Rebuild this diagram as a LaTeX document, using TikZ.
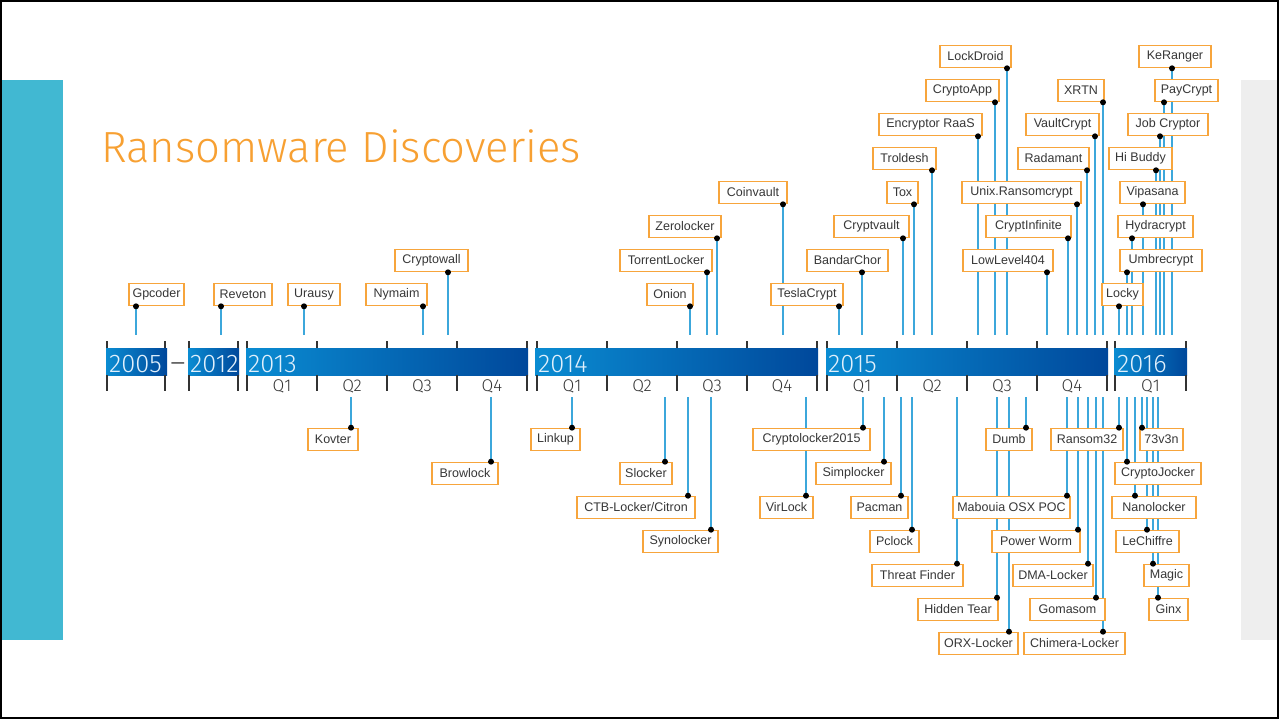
\documentclass[tikz,border=0pt]{standalone}
\usepackage{fontspec}
\setmainfont{Liberation Sans}
\newfontfamily\lightfont{Fira Sans Light}
\usetikzlibrary{arrows.meta}

\definecolor{sidecyan}{RGB}{65,184,210}
\definecolor{sidegrey}{RGB}{238,238,238}
\definecolor{titleorange}{RGB}{247,160,50}
\definecolor{boxorange}{RGB}{247,165,60}
\definecolor{stemblue}{RGB}{60,167,219}
\definecolor{barlight}{RGB}{10,140,210}
\definecolor{bardark}{RGB}{0,72,155}
\definecolor{yeartext}{RGB}{225,240,252}
\definecolor{labeltext}{RGB}{55,55,55}

\pgfdeclarelayer{background}
\pgfdeclarelayer{foreground}
\pgfsetlayers{background,main,foreground}

\tikzset{
  evbox/.style={draw=boxorange, line width=1.6pt, fill=white, text=labeltext,
    font=\fontsize{12.5}{14}\selectfont, inner xsep=2pt, inner ysep=0pt, minimum height=22pt},
  stem/.style={stemblue, line width=1.7pt},
  dot/.style={fill=black},
  bar/.style={left color=barlight, right color=bardark},
  tick/.style={draw=black!80, line width=1.4pt},
  yearlabel/.style={anchor=base west, text=yeartext, inner sep=0pt,
    font=\lightfont\fontsize{25.5}{25}\selectfont},
  qlabel/.style={anchor=base, text=black!80, inner sep=0pt,
    font=\lightfont\fontsize{17}{17}\selectfont},
}

\begin{document}
\begin{tikzpicture}[x=1pt, y=-1pt]

% Row heights above and below the bar
\def\rowua{294.5}
\def\rowub{260.5}
\def\rowuc{226.5}
\def\rowud{192.5}
\def\rowue{158.5}
\def\rowuf{124.5}
\def\rowug{90.5}
\def\rowuh{56.5}
\def\rowda{439.5}
\def\rowdb{473.5}
\def\rowdc{507.5}
\def\rowdd{541.5}
\def\rowde{575.5}
\def\rowdf{609.5}
\def\rowdg{643.5}
\def\uptop{335}
\def\dntop{397}

\useasboundingbox (0,0) rectangle (1279,719);

% Page frame and side panels
\fill[sidecyan] (0,80) rectangle (63,640);
\fill[sidegrey] (1241,80) rectangle (1279,640);
\draw[line width=2pt] (1,1) rectangle (1278,718);

% Title
\node[anchor=base west, inner sep=0pt, text=titleorange, font=\lightfont\fontsize{43.6}{44}\selectfont] (title) at (101,163) {Ransomware Discoveries};

% Year bars
\shade[bar] (106,348) rectangle (167,375);
\shade[bar] (188,348) rectangle (239,375);
\shade[bar] (246,348) rectangle (528,375);
\shade[bar] (535,348) rectangle (818,375);
\shade[bar] (826,348) rectangle (1108,375);
\shade[bar] (1114,348) rectangle (1187,375);

% Ticks above and below the bars
\draw[tick] (107,341) -- (107,348) (107,375) -- (107,391) (165,341) -- (165,348) (165,375) -- (165,391);
\draw[tick] (189,341) -- (189,348) (189,375) -- (189,391) (238,341) -- (238,348) (238,375) -- (238,391);
\draw[tick] (247,341) -- (247,348) (247,375) -- (247,391) (317,341) -- (317,348) (317,375) -- (317,391);
\draw[tick] (387,341) -- (387,348) (387,375) -- (387,391) (457,341) -- (457,348) (457,375) -- (457,391);
\draw[tick] (527,341) -- (527,348) (527,375) -- (527,391) (537,341) -- (537,348) (537,375) -- (537,391);
\draw[tick] (607,341) -- (607,348) (607,375) -- (607,391) (677,341) -- (677,348) (677,375) -- (677,391);
\draw[tick] (747,341) -- (747,348) (747,375) -- (747,391) (817,341) -- (817,348) (817,375) -- (817,391);
\draw[tick] (827,341) -- (827,348) (827,375) -- (827,391) (897,341) -- (897,348) (897,375) -- (897,391);
\draw[tick] (967,341) -- (967,348) (967,375) -- (967,391) (1037,341) -- (1037,348) (1037,375) -- (1037,391);
\draw[tick] (1107,341) -- (1107,348) (1107,375) -- (1107,391) (1115,341) -- (1115,348) (1115,375) -- (1115,391);
\draw[tick] (1186,341) -- (1186,348) (1186,375) -- (1186,391);

% Year labels
\node[yearlabel] (y2005) at (109,372) {2005};
\node[anchor=base, inner sep=0pt, text=black!75, font=\lightfont\fontsize{29}{29}\selectfont] (dash) at (178,372) {–};
\node[yearlabel] (y2012) at (190,372) {2012};
\node[yearlabel] (y2013) at (248,372) {2013};
\node[yearlabel] (y2014) at (538,372) {2014};
\node[yearlabel] (y2015) at (828,372) {2015};
\node[yearlabel] (y2016) at (1117,372) {2016};

% Quarter labels
\node[qlabel] (q13a) at (282,391) {Q1};
\node[qlabel] (q13b) at (352,391) {Q2};
\node[qlabel] (q13c) at (422,391) {Q3};
\node[qlabel] (q13d) at (492,391) {Q4};
\node[qlabel] (q14a) at (572,391) {Q1};
\node[qlabel] (q14b) at (642,391) {Q2};
\node[qlabel] (q14c) at (712,391) {Q3};
\node[qlabel] (q14d) at (782,391) {Q4};
\node[qlabel] (q15a) at (862,391) {Q1};
\node[qlabel] (q15b) at (932,391) {Q2};
\node[qlabel] (q15c) at (1002,391) {Q3};
\node[qlabel] (q15d) at (1072,391) {Q4};
\node[qlabel] (q16a) at (1150.5,391) {Q1};

% Discoveries above the bar
\node[evbox, minimum width=55] (gpcoder) at (156.5,\rowua) {Gpcoder};
\node[evbox, minimum width=58] (reveton) at (243,\rowua) {Reveton};
\node[evbox, minimum width=52] (urausy) at (314,\rowua) {Urausy};
\node[evbox, minimum width=61] (nymaim) at (396.5,\rowua) {Nymaim};
\node[evbox, minimum width=73] (cryptowall) at (431.5,\rowub) {Cryptowall};
\node[evbox, minimum width=46] (onion) at (670,\rowua) {Onion};
\node[evbox, minimum width=92] (torrentlocker) at (666,\rowub) {TorrentLocker};
\node[evbox, minimum width=72] (zerolocker) at (685,\rowuc) {Zerolocker};
\node[evbox, minimum width=68] (coinvault) at (753,\rowud) {Coinvault};
\node[evbox, minimum width=72] (teslacrypt) at (807,\rowua) {TeslaCrypt};
\node[evbox, minimum width=81] (bandarchor) at (847.5,\rowub) {BandarChor};
\node[evbox, minimum width=75] (cryptvault) at (871.5,\rowuc) {Cryptvault};
\node[evbox, minimum width=31] (tox) at (902.5,\rowud) {Tox};
\node[evbox, minimum width=63] (troldesh) at (904.5,\rowue) {Troldesh};
\node[evbox, minimum width=103] (encryptor) at (930.5,\rowuf) {Encryptor RaaS};
\node[evbox, minimum width=73] (cryptoapp) at (962.5,\rowug) {CryptoApp};
\node[evbox, minimum width=71] (lockdroid) at (975.5,\rowuh) {LockDroid};
\node[evbox, minimum width=119] (unixransom) at (1021.5,\rowud) {Unix.Ransomcrypt};
\node[evbox, minimum width=85] (cryptinfinite) at (1028.5,\rowuc) {CryptInfinite};
\node[evbox, minimum width=90] (lowlevel) at (1008,\rowub) {LowLevel404};
\node[evbox, minimum width=71] (radamant) at (1053.5,\rowue) {Radamant};
\node[evbox, minimum width=73] (vaultcrypt) at (1062.5,\rowuf) {VaultCrypt};
\node[evbox, minimum width=46] (xrtn) at (1081,\rowug) {XRTN};
\node[evbox, minimum width=41] (locky) at (1122.5,\rowua) {Locky};
\node[evbox, minimum width=82] (umbrecrypt) at (1161,\rowub) {Umbrecrypt};
\node[evbox, minimum width=75] (hydracrypt) at (1155.5,\rowuc) {Hydracrypt};
\node[evbox, minimum width=65] (vipasana) at (1152.5,\rowud) {Vipasana};
\node[evbox, minimum width=63] (hibuddy) at (1140.5,\rowue) {Hi Buddy};
\node[evbox, minimum width=80] (jobcryptor) at (1168,\rowuf) {Job Cryptor};
\node[evbox, minimum width=63] (paycrypt) at (1186.5,\rowug) {PayCrypt};
\node[evbox, minimum width=72] (keranger) at (1175,\rowuh) {KeRanger};

% Discoveries below the bar
\node[evbox, minimum width=50] (kovter) at (333,\rowda) {Kovter};
\node[evbox, minimum width=66] (browlock) at (465,\rowdb) {Browlock};
\node[evbox, minimum width=49] (linkup) at (555.5,\rowda) {Linkup};
\node[evbox, minimum width=52] (slocker) at (646,\rowdb) {Slocker};
\node[evbox, minimum width=118] (ctblocker) at (636,\rowdc) {CTB-Locker/Citron};
\node[evbox, minimum width=75] (synolocker) at (680.5,\rowdd) {Synolocker};
\node[evbox, minimum width=117] (cryptolocker) at (811.5,\rowda) {Cryptolocker2015};
\node[evbox, minimum width=53] (virlock) at (786.5,\rowdc) {VirLock};
\node[evbox, minimum width=75] (simplocker) at (853.5,\rowdb) {Simplocker};
\node[evbox, minimum width=57] (pacman) at (879.5,\rowdc) {Pacman};
\node[evbox, minimum width=49] (pclock) at (894.5,\rowdd) {Pclock};
\node[evbox, minimum width=91] (threatfinder) at (917.5,\rowde) {Threat Finder};
\node[evbox, minimum width=80] (hiddentear) at (958,\rowdf) {Hidden Tear};
\node[evbox, minimum width=79] (orxlocker) at (978.5,\rowdg) {ORX-Locker};
\node[evbox, minimum width=46] (dumb) at (1009,\rowda) {Dumb};
\node[evbox, minimum width=117] (mabouia) at (1011.5,\rowdc) {Mabouia OSX POC};
\node[evbox, minimum width=88] (powerworm) at (1036,\rowdd) {Power Worm};
\node[evbox, minimum width=80] (dmalocker) at (1053,\rowde) {DMA-Locker};
\node[evbox, minimum width=75] (gomasom) at (1067.5,\rowdf) {Gomasom};
\node[evbox, minimum width=101] (chimera) at (1074.5,\rowdg) {Chimera-Locker};
\node[evbox, minimum width=72] (ransom) at (1087,\rowda) {Ransom32};
\node[evbox, minimum width=43] (sevenleven) at (1161.5,\rowda) {73v3n};
\node[evbox, minimum width=86] (cryptojocker) at (1158,\rowdb) {CryptoJocker};
\node[evbox, minimum width=84] (nanolocker) at (1154,\rowdc) {Nanolocker};
\node[evbox, minimum width=63] (lechiffre) at (1147.5,\rowdd) {LeChiffre};
\node[evbox, minimum width=45] (magic) at (1166.5,\rowde) {Magic};
\node[evbox, minimum width=39] (ginx) at (1168.5,\rowdf) {Ginx};

% Where the stems meet the bar
\coordinate (gpcoder-t) at (136,\uptop);
\coordinate (reveton-t) at (221,\uptop);
\coordinate (urausy-t) at (304,\uptop);
\coordinate (nymaim-t) at (423,\uptop);
\coordinate (cryptowall-t) at (448,\uptop);
\coordinate (onion-t) at (690,\uptop);
\coordinate (torrentlocker-t) at (707,\uptop);
\coordinate (zerolocker-t) at (717,\uptop);
\coordinate (coinvault-t) at (783,\uptop);
\coordinate (teslacrypt-t) at (839,\uptop);
\coordinate (bandarchor-t) at (862,\uptop);
\coordinate (cryptvault-t) at (903,\uptop);
\coordinate (tox-t) at (914,\uptop);
\coordinate (troldesh-t) at (932,\uptop);
\coordinate (encryptor-t) at (978,\uptop);
\coordinate (cryptoapp-t) at (995,\uptop);
\coordinate (lockdroid-t) at (1007,\uptop);
\coordinate (unixransom-t) at (1077,\uptop);
\coordinate (cryptinfinite-t) at (1068,\uptop);
\coordinate (lowlevel-t) at (1047,\uptop);
\coordinate (radamant-t) at (1087,\uptop);
\coordinate (vaultcrypt-t) at (1095,\uptop);
\coordinate (xrtn-t) at (1103,\uptop);
\coordinate (locky-t) at (1119,\uptop);
\coordinate (umbrecrypt-t) at (1127,\uptop);
\coordinate (hydracrypt-t) at (1132,\uptop);
\coordinate (vipasana-t) at (1143,\uptop);
\coordinate (hibuddy-t) at (1156,\uptop);
\coordinate (jobcryptor-t) at (1160,\uptop);
\coordinate (paycrypt-t) at (1164,\uptop);
\coordinate (keranger-t) at (1172,\uptop);

\coordinate (kovter-t) at (351,\dntop);
\coordinate (browlock-t) at (491,\dntop);
\coordinate (linkup-t) at (572,\dntop);
\coordinate (slocker-t) at (665,\dntop);
\coordinate (ctblocker-t) at (688,\dntop);
\coordinate (synolocker-t) at (711,\dntop);
\coordinate (cryptolocker-t) at (863,\dntop);
\coordinate (virlock-t) at (806,\dntop);
\coordinate (simplocker-t) at (884,\dntop);
\coordinate (pacman-t) at (901,\dntop);
\coordinate (pclock-t) at (912,\dntop);
\coordinate (threatfinder-t) at (957,\dntop);
\coordinate (hiddentear-t) at (997,\dntop);
\coordinate (orxlocker-t) at (1009,\dntop);
\coordinate (dumb-t) at (1026,\dntop);
\coordinate (mabouia-t) at (1067,\dntop);
\coordinate (powerworm-t) at (1078,\dntop);
\coordinate (dmalocker-t) at (1088,\dntop);
\coordinate (gomasom-t) at (1096,\dntop);
\coordinate (chimera-t) at (1103,\dntop);
\coordinate (ransom-t) at (1119,\dntop);
\coordinate (sevenleven-t) at (1142,\dntop);
\coordinate (cryptojocker-t) at (1127,\dntop);
\coordinate (nanolocker-t) at (1135,\dntop);
\coordinate (lechiffre-t) at (1147,\dntop);
\coordinate (magic-t) at (1153,\dntop);
\coordinate (ginx-t) at (1158,\dntop);

% Stems go behind the boxes
\begin{pgfonlayer}{background}
\draw[stem] (gpcoder.south -| gpcoder-t) -- (gpcoder-t);
\draw[stem] (reveton.south -| reveton-t) -- (reveton-t);
\draw[stem] (urausy.south -| urausy-t) -- (urausy-t);
\draw[stem] (nymaim.south -| nymaim-t) -- (nymaim-t);
\draw[stem] (cryptowall.south -| cryptowall-t) -- (cryptowall-t);
\draw[stem] (onion.south -| onion-t) -- (onion-t);
\draw[stem] (torrentlocker.south -| torrentlocker-t) -- (torrentlocker-t);
\draw[stem] (zerolocker.south -| zerolocker-t) -- (zerolocker-t);
\draw[stem] (coinvault.south -| coinvault-t) -- (coinvault-t);
\draw[stem] (teslacrypt.south -| teslacrypt-t) -- (teslacrypt-t);
\draw[stem] (bandarchor.south -| bandarchor-t) -- (bandarchor-t);
\draw[stem] (cryptvault.south -| cryptvault-t) -- (cryptvault-t);
\draw[stem] (tox.south -| tox-t) -- (tox-t);
\draw[stem] (troldesh.south -| troldesh-t) -- (troldesh-t);
\draw[stem] (encryptor.south -| encryptor-t) -- (encryptor-t);
\draw[stem] (cryptoapp.south -| cryptoapp-t) -- (cryptoapp-t);
\draw[stem] (lockdroid.south -| lockdroid-t) -- (lockdroid-t);
\draw[stem] (unixransom.south -| unixransom-t) -- (unixransom-t);
\draw[stem] (cryptinfinite.south -| cryptinfinite-t) -- (cryptinfinite-t);
\draw[stem] (lowlevel.south -| lowlevel-t) -- (lowlevel-t);
\draw[stem] (radamant.south -| radamant-t) -- (radamant-t);
\draw[stem] (vaultcrypt.south -| vaultcrypt-t) -- (vaultcrypt-t);
\draw[stem] (xrtn.south -| xrtn-t) -- (xrtn-t);
\draw[stem] (locky.south -| locky-t) -- (locky-t);
\draw[stem] (umbrecrypt.south -| umbrecrypt-t) -- (umbrecrypt-t);
\draw[stem] (hydracrypt.south -| hydracrypt-t) -- (hydracrypt-t);
\draw[stem] (vipasana.south -| vipasana-t) -- (vipasana-t);
\draw[stem] (hibuddy.south -| hibuddy-t) -- (hibuddy-t);
\draw[stem] (jobcryptor.south -| jobcryptor-t) -- (jobcryptor-t);
\draw[stem] (paycrypt.south -| paycrypt-t) -- (paycrypt-t);
\draw[stem] (keranger.south -| keranger-t) -- (keranger-t);

\draw[stem] (kovter.north -| kovter-t) -- (kovter-t);
\draw[stem] (browlock.north -| browlock-t) -- (browlock-t);
\draw[stem] (linkup.north -| linkup-t) -- (linkup-t);
\draw[stem] (slocker.north -| slocker-t) -- (slocker-t);
\draw[stem] (ctblocker.north -| ctblocker-t) -- (ctblocker-t);
\draw[stem] (synolocker.north -| synolocker-t) -- (synolocker-t);
\draw[stem] (cryptolocker.north -| cryptolocker-t) -- (cryptolocker-t);
\draw[stem] (virlock.north -| virlock-t) -- (virlock-t);
\draw[stem] (simplocker.north -| simplocker-t) -- (simplocker-t);
\draw[stem] (pacman.north -| pacman-t) -- (pacman-t);
\draw[stem] (pclock.north -| pclock-t) -- (pclock-t);
\draw[stem] (threatfinder.north -| threatfinder-t) -- (threatfinder-t);
\draw[stem] (hiddentear.north -| hiddentear-t) -- (hiddentear-t);
\draw[stem] (orxlocker.north -| orxlocker-t) -- (orxlocker-t);
\draw[stem] (dumb.north -| dumb-t) -- (dumb-t);
\draw[stem] (mabouia.north -| mabouia-t) -- (mabouia-t);
\draw[stem] (powerworm.north -| powerworm-t) -- (powerworm-t);
\draw[stem] (dmalocker.north -| dmalocker-t) -- (dmalocker-t);
\draw[stem] (gomasom.north -| gomasom-t) -- (gomasom-t);
\draw[stem] (chimera.north -| chimera-t) -- (chimera-t);
\draw[stem] (ransom.north -| ransom-t) -- (ransom-t);
\draw[stem] (sevenleven.north -| sevenleven-t) -- (sevenleven-t);
\draw[stem] (cryptojocker.north -| cryptojocker-t) -- (cryptojocker-t);
\draw[stem] (nanolocker.north -| nanolocker-t) -- (nanolocker-t);
\draw[stem] (lechiffre.north -| lechiffre-t) -- (lechiffre-t);
\draw[stem] (magic.north -| magic-t) -- (magic-t);
\draw[stem] (ginx.north -| ginx-t) -- (ginx-t);
\end{pgfonlayer}

% Dots sit on the box edges, above everything
\begin{pgfonlayer}{foreground}
\fill[dot] (gpcoder.south -| gpcoder-t) circle (3pt);
\fill[dot] (reveton.south -| reveton-t) circle (3pt);
\fill[dot] (urausy.south -| urausy-t) circle (3pt);
\fill[dot] (nymaim.south -| nymaim-t) circle (3pt);
\fill[dot] (cryptowall.south -| cryptowall-t) circle (3pt);
\fill[dot] (onion.south -| onion-t) circle (3pt);
\fill[dot] (torrentlocker.south -| torrentlocker-t) circle (3pt);
\fill[dot] (zerolocker.south -| zerolocker-t) circle (3pt);
\fill[dot] (coinvault.south -| coinvault-t) circle (3pt);
\fill[dot] (teslacrypt.south -| teslacrypt-t) circle (3pt);
\fill[dot] (bandarchor.south -| bandarchor-t) circle (3pt);
\fill[dot] (cryptvault.south -| cryptvault-t) circle (3pt);
\fill[dot] (tox.south -| tox-t) circle (3pt);
\fill[dot] (troldesh.south -| troldesh-t) circle (3pt);
\fill[dot] (encryptor.south -| encryptor-t) circle (3pt);
\fill[dot] (cryptoapp.south -| cryptoapp-t) circle (3pt);
\fill[dot] (lockdroid.south -| lockdroid-t) circle (3pt);
\fill[dot] (unixransom.south -| unixransom-t) circle (3pt);
\fill[dot] (cryptinfinite.south -| cryptinfinite-t) circle (3pt);
\fill[dot] (lowlevel.south -| lowlevel-t) circle (3pt);
\fill[dot] (radamant.south -| radamant-t) circle (3pt);
\fill[dot] (vaultcrypt.south -| vaultcrypt-t) circle (3pt);
\fill[dot] (xrtn.south -| xrtn-t) circle (3pt);
\fill[dot] (locky.south -| locky-t) circle (3pt);
\fill[dot] (umbrecrypt.south -| umbrecrypt-t) circle (3pt);
\fill[dot] (hydracrypt.south -| hydracrypt-t) circle (3pt);
\fill[dot] (vipasana.south -| vipasana-t) circle (3pt);
\fill[dot] (hibuddy.south -| hibuddy-t) circle (3pt);
\fill[dot] (jobcryptor.south -| jobcryptor-t) circle (3pt);
\fill[dot] (paycrypt.south -| paycrypt-t) circle (3pt);
\fill[dot] (keranger.south -| keranger-t) circle (3pt);

\fill[dot] (kovter.north -| kovter-t) circle (3pt);
\fill[dot] (browlock.north -| browlock-t) circle (3pt);
\fill[dot] (linkup.north -| linkup-t) circle (3pt);
\fill[dot] (slocker.north -| slocker-t) circle (3pt);
\fill[dot] (ctblocker.north -| ctblocker-t) circle (3pt);
\fill[dot] (synolocker.north -| synolocker-t) circle (3pt);
\fill[dot] (cryptolocker.north -| cryptolocker-t) circle (3pt);
\fill[dot] (virlock.north -| virlock-t) circle (3pt);
\fill[dot] (simplocker.north -| simplocker-t) circle (3pt);
\fill[dot] (pacman.north -| pacman-t) circle (3pt);
\fill[dot] (pclock.north -| pclock-t) circle (3pt);
\fill[dot] (threatfinder.north -| threatfinder-t) circle (3pt);
\fill[dot] (hiddentear.north -| hiddentear-t) circle (3pt);
\fill[dot] (orxlocker.north -| orxlocker-t) circle (3pt);
\fill[dot] (dumb.north -| dumb-t) circle (3pt);
\fill[dot] (mabouia.north -| mabouia-t) circle (3pt);
\fill[dot] (powerworm.north -| powerworm-t) circle (3pt);
\fill[dot] (dmalocker.north -| dmalocker-t) circle (3pt);
\fill[dot] (gomasom.north -| gomasom-t) circle (3pt);
\fill[dot] (chimera.north -| chimera-t) circle (3pt);
\fill[dot] (ransom.north -| ransom-t) circle (3pt);
\fill[dot] (sevenleven.north -| sevenleven-t) circle (3pt);
\fill[dot] (cryptojocker.north -| cryptojocker-t) circle (3pt);
\fill[dot] (nanolocker.north -| nanolocker-t) circle (3pt);
\fill[dot] (lechiffre.north -| lechiffre-t) circle (3pt);
\fill[dot] (magic.north -| magic-t) circle (3pt);
\fill[dot] (ginx.north -| ginx-t) circle (3pt);
\end{pgfonlayer}

\end{tikzpicture}
\end{document}
